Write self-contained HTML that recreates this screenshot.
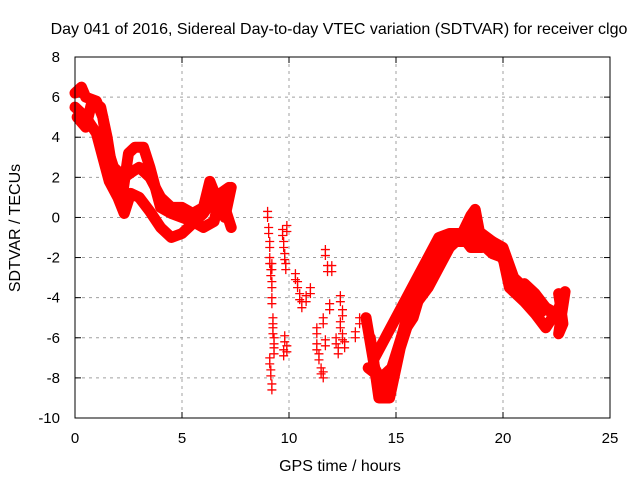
<!DOCTYPE html>
<html><head><meta charset="utf-8"><style>
body{margin:0;background:#fff}
svg{display:block;font-family:"Liberation Sans",sans-serif}
</style></head><body>
<svg id="c" width="640" height="480">
<text x="339" y="34" font-size="16" text-anchor="middle">Day 041 of 2016, Sidereal Day-to-day VTEC variation (SDTVAR) for receiver clgo</text>
<text x="340" y="471" font-size="16" text-anchor="middle">GPS time / hours</text>
<text transform="translate(20,228) rotate(-90)" font-size="16" text-anchor="middle">SDTVAR / TECUs</text>
<g id="grid"></g><g id="marks"></g>
<rect x="75" y="57" width="535" height="361" fill="none" stroke="#000"/>
</svg>
<script>
const xTicks=[0,5,10,15,20,25];
const yTicks=[8,6,4,2,0,-2,-4,-6,-8,-10];
const seriesA=[[0,6.2],[0.3,6.5],[0.5,6.0],[1,5.8],[1.3,5.0],[1.5,3.5],[1.8,2.5],[2.3,2.0],[2.7,2.3],[3.0,2.5],[3.5,2.0],[4,1.0],[4.5,0.5],[5,0.5],[5.5,0.2],[6,0.5],[6.3,1.8],[6.6,1.0],[7,0],[7.3,1.5]];
const seriesB=[[0,5.5],[0.5,5.0],[1,4.2],[1.3,3.0],[1.6,1.8],[2,1.0],[2.3,0.2],[2.6,1.2],[3,1.0],[3.5,0.3],[4,-0.5],[4.5,-1.0],[5,-0.8],[5.5,-0.3],[6,0.2],[6.5,1.0],[7,0.5],[7.3,-0.5]];
const seriesC=[[0.1,5.0],[0.5,4.5],[0.8,5.8],[1.2,5.5],[1.5,4.0],[1.8,2.0],[2.2,1.0],[2.5,3.2],[2.8,3.5],[3.2,3.5],[3.5,2.5],[4,0.5],[4.5,0.2],[5,0.0],[5.5,-0.2],[6,-0.5],[6.5,-0.2],[6.8,1.2],[7.2,1.5]];
const seriesD=[[13.6,-5],[14,-7.5],[14.5,-8.5],[15,-7],[15.5,-5],[16,-4],[16.5,-2.5],[17,-1.8],[17.5,-1.2],[18,-1.0],[18.5,-0.5],[19,-0.8],[19.5,-1.2],[20,-1.5],[20.5,-3.0],[21,-3.5],[21.5,-4.0],[22,-4.5],[22.5,-5.0]];
const seriesE=[[13.8,-6],[14.2,-9],[14.7,-9],[15.2,-6.5],[15.8,-4.5],[16.5,-3.5],[17,-2.5],[17.5,-1.5],[18,-1.0],[18.5,0.1],[18.7,0.4],[19,-1.3],[19.5,-1.8],[20,-2.0],[20.3,-3.5],[21,-4.2],[21.5,-4.8],[22,-5.5],[22.3,-5.0]];
const seriesF=[[14,-7],[14.5,-6],[15,-5],[15.5,-4],[16,-3],[16.5,-2],[17,-1],[17.5,-0.8],[18,-0.8],[18.5,-1.5],[19,-1.5],[19.5,-1.2],[20,-2],[20.5,-3.5],[21,-3.3],[21.5,-3.8],[22,-4.5],[22.5,-4.8],[22.8,-4.0]];
const seriesH=[[13.7,-7.5],[14.3,-8],[14.8,-7.5],[15.3,-5.8],[15.8,-5],[16.3,-3.2],[16.8,-2.2],[17.3,-1.5],[17.8,-1.2],[18.3,-1.2],[18.8,-1.0],[19.3,-1.5],[19.8,-1.7],[20.2,-2.5],[20.8,-3.8],[21.3,-4.3],[21.8,-4.7]];
const seriesG=[[22.6,-3.8],[22.7,-4.5],[22.8,-5.3],[22.6,-5.8],[22.9,-3.7]];
const scatterT=[9.0,9.05,9.1,9.1,9.15,9.2,9.2,9.25,9.3,9.1,9.15,9.2,9.3,9.25,9.2,9.7,9.75,9.8,9.85,9.9,9.8,9.75,9.9,10.3,10.4,10.5,10.6,10.8,11.0,11.3,11.3,11.4,11.5,11.6,11.7,11.8,11.9,11.7,11.6,12.0,12.2,12.3,12.4,12.5,12.6,12.4,12.5,13.1,13.3];
const scatterV=[0.3,-0.5,-1.2,-2.0,-2.6,-3.2,-4.0,-5.5,-6.5,-7.0,-7.6,-8.3,-6.0,-5.0,-2.3,-0.6,-1.2,-1.8,-2.3,-0.4,-5.9,-6.6,-6.4,-2.8,-3.2,-3.8,-4.2,-3.9,-3.5,-5.5,-6.3,-6.8,-7.5,-5.0,-1.6,-2.4,-4.3,-6.1,-7.7,-2.4,-6.0,-6.5,-5.2,-5.8,-6.2,-3.9,-4.6,-5.7,-5.0];
const X=t=>75+t*21.4, Y=v=>57+(8-v)*20.056;
const NS="http://www.w3.org/2000/svg";
const g=document.getElementById('grid'), m=document.getElementById('marks');
function el(tag,attrs,parent){const e=document.createElementNS(NS,tag);for(const k in attrs)e.setAttribute(k,attrs[k]);parent.appendChild(e);return e;}
xTicks.forEach(t=>{
 if(t>0&&t<25){const l=el('line',{x1:X(t),x2:X(t),y1:57,y2:418,stroke:'#a0a0a0','stroke-dasharray':'3,4'},g);
 
 }
 el('line',{x1:X(t),x2:X(t),y1:418,y2:412,stroke:'#000'},g);el('line',{x1:X(t),x2:X(t),y1:57,y2:63,stroke:'#000'},g);
 const tx=el('text',{x:X(t),y:443,'font-size':15,'text-anchor':'middle'},g);tx.textContent=t;
 
 
});
yTicks.forEach(v=>{
 if(v<8&&v>-10){const l=el('line',{x1:75,x2:610,y1:Y(v),y2:Y(v),stroke:'#a0a0a0','stroke-dasharray':'3,4'},g);
 
 }
 el('line',{x1:75,x2:81,y1:Y(v),y2:Y(v),stroke:'#000'},g);el('line',{x1:610,x2:604,y1:Y(v),y2:Y(v),stroke:'#000'},g);
 const tx=el('text',{x:60,y:Y(v)+5,'font-size':15,'text-anchor':'end'},g);tx.textContent=v;
 
 
});
function cross(t,v){
 const p=el('path',{d:`M${X(t)-4.5},${Y(v)}h9M${X(t)},${Y(v)-4.5}v9`,stroke:'#f00','stroke-width':1.3},m);
 
 
}
[seriesA,seriesB,seriesC,seriesD,seriesE,seriesF,seriesH,seriesG].forEach(s=>{
 const pl=el('polyline',{points:s.map(p=>X(p[0])+','+Y(p[1])).join(' '),fill:'none',stroke:'#f00','stroke-width':11,'stroke-linejoin':'round','stroke-linecap':'round'},m);
 
 
 s.forEach(p=>cross(p[0],p[1]));
});
scatterT.forEach((t,i)=>{cross(t,scatterV[i]);cross(t,scatterV[i]-0.3);});
</script>
</body></html>
